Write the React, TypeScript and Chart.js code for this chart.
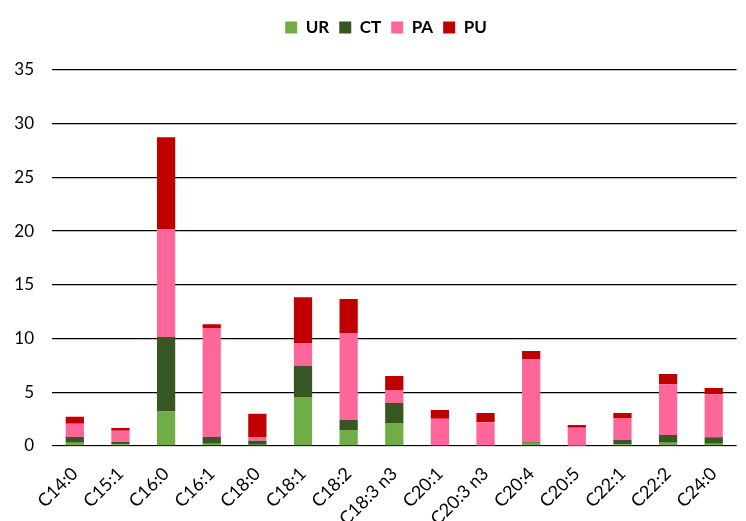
import React, { useEffect, useRef } from "react";
import { Chart, registerables } from "chart.js";

Chart.register(...registerables);

const categories = ["C14:0", "C15:1", "C16:0", "C16:1", "C18:0", "C18:1", "C18:2", "C18:3 n3", "C20:1", "C20:3 n3", "C20:4", "C20:5", "C22:1", "C22:2", "C24:0"];
const UR = [0.3, 0.16, 3.2, 0.22, 0.12, 4.56, 1.49, 2.14, 0.05, 0.05, 0.31, 0.03, 0.16, 0.31, 0.21];
const CT = [0.54, 0.21, 6.95, 0.62, 0.38, 2.92, 0.93, 1.86, 0.05, 0.05, 0.09, 0.05, 0.4, 0.71, 0.6];
const PA = [1.24, 1.06, 10.0, 10.15, 0.34, 2.11, 8.1, 1.21, 2.44, 2.1, 7.7, 1.63, 2.04, 4.72, 4.0];
const PU = [0.65, 0.25, 8.6, 0.35, 2.16, 4.25, 3.17, 1.31, 0.81, 0.87, 0.75, 0.25, 0.47, 0.96, 0.59];
const yTicks = [0, 5, 10, 15, 20, 25, 30, 35];

const FONT = "Lato, 'Open Sans', sans-serif";

const legendPlugin = {
  id: "legendTweak",
  beforeInit(chart: any) {
    const fit = chart.legend.fit;
    chart.legend.fit = function () {
      fit.bind(chart.legend)();
      this.height = 70;
    };
  },
  afterLayout(chart: any) {
    chart.legend.left += 26;
    chart.legend.top += 9;
  },
};

export default function App() {
  const ref = useRef<HTMLCanvasElement>(null);
  useEffect(() => {
    if (!ref.current) return;
    const mk = (label: string, data: number[], color: string) => ({
      label,
      data,
      backgroundColor: color,
      borderWidth: 0,
      barPercentage: 0.4,
      categoryPercentage: 1,
    });
    const chart = new Chart(ref.current, {
      type: "bar",
      data: {
        labels: categories,
        datasets: [
          mk("UR", UR, "#70AD47"),
          mk("CT", CT, "#375623"),
          mk("PA", PA, "#FF6699"),
          mk("PU", PU, "#C00000"),
        ],
      },
      plugins: [legendPlugin],
      options: {
        animation: false,
        responsive: false,
        maintainAspectRatio: false,
        layout: { padding: { left: 0, right: 0, top: 0, bottom: 0 } },
        plugins: {
          legend: {
            position: "top",
            labels: {
              boxWidth: 12,
              boxHeight: 12,
              color: "#000",
              font: { family: FONT, size: 17, weight: "bold" },
              padding: 10,
            },
          },
          tooltip: { enabled: false },
        },
        scales: {
          x: {
            stacked: true,
            grid: { display: false, drawTicks: false },
            border: { color: "#d9d9d9", width: 1 },
            afterFit: (scale: any) => {
              scale.height = 75;
            },
            ticks: {
              color: "#000",
              font: { family: FONT, size: 18 },
              maxRotation: 45,
              minRotation: 45,
              autoSkip: false,
              padding: 17,
            },
          },
          y: {
            stacked: true,
            min: 0,
            max: 35,
            afterBuildTicks: (axis: any) => {
              axis.ticks = yTicks.map((v) => ({ value: v }));
            },
            afterFit: (scale: any) => {
              scale.width = 52;
            },
            grid: { color: "#000", lineWidth: 1.3, drawTicks: false },
            border: { display: false },
            ticks: {
              color: "#000",
              font: { family: FONT, size: 17 },
              padding: 18,
            },
          },
        },
      },
    });
    return () => chart.destroy();
  }, []);
  return (
    <div style={{ position: "absolute", left: 0, top: 0, width: 746, height: 521, background: "#fff" }}>
      <canvas ref={ref} width={746} height={521} />
    </div>
  );
}
